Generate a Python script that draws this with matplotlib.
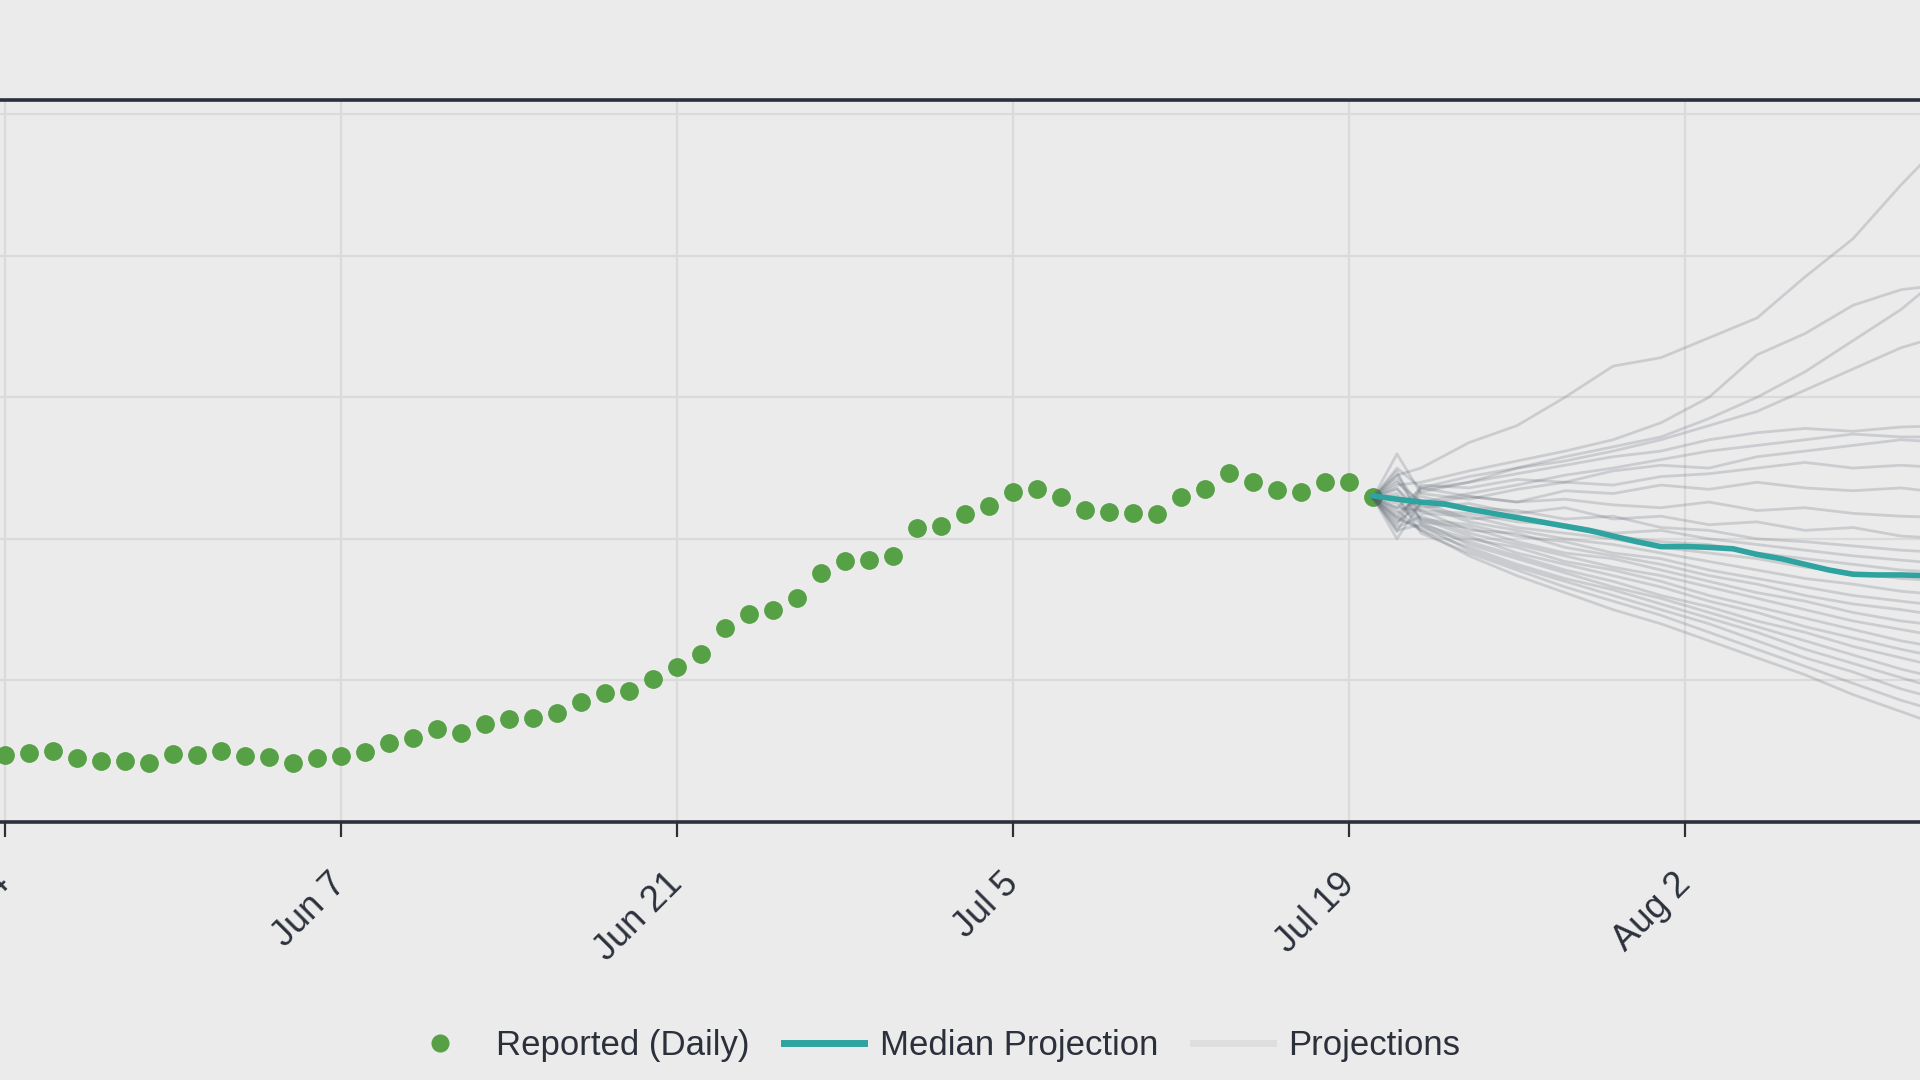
import numpy as np
import matplotlib

matplotlib.use("Agg")
import matplotlib.pyplot as plt
import matplotlib.dates as mdates
from matplotlib.lines import Line2D

plt.rcParams["font.family"] = ["Liberation Sans", "DejaVu Sans"]

# reported daily values, May 24 .. Jul 20
reported_dates = np.arange("2020-05-24", "2020-07-21", dtype="datetime64[D]")
reported = [
    47.3, 48.5, 50.4, 45.0, 43.1, 43.3, 41.9, 48.0, 47.3, 49.9,
    46.6, 46.1, 41.9, 45.0, 46.6, 49.6, 56.0, 59.5, 65.9, 63.1,
    69.2, 72.5, 73.2, 77.2, 85.0, 90.9, 92.7, 100.8, 109.3, 118.4,
    137.2, 147.1, 149.7, 158.4, 175.6, 184.3, 184.8, 188.1, 207.8, 209.0,
    217.5, 223.4, 233.3, 235.0, 229.3, 220.1, 219.1, 218.0, 217.3, 229.7,
    235.0, 246.3, 239.9, 234.5, 233.3, 240.3, 240.1, 229.3,
]

# median projection, Jul 20 .. Aug 13
median_dates = np.arange("2020-07-20", "2020-08-14", dtype="datetime64[D]")
median = [
    230.4, 228, 226, 224.5, 221, 218, 215, 212, 209, 206,
    202, 198, 194.5, 194.6, 194, 193, 189, 186, 182, 178,
    175, 174.5, 174.5, 174, 173,
]

# individual projections
proj_dates = np.array(
    ["2020-07-20", "2020-07-21", "2020-07-22", "2020-07-24", "2020-07-26",
     "2020-07-28", "2020-07-30", "2020-08-01", "2020-08-03", "2020-08-05",
     "2020-08-07", "2020-08-09", "2020-08-11", "2020-08-13"],
    dtype="datetime64[D]",
)
projections = [
    [229, 245, 250, 268, 280, 300, 322, 328, 342, 356, 385, 412, 450, 485],
    [229, 238, 240, 248, 255, 262, 270, 282, 300, 330, 345, 365, 376, 380],
    [229, 222, 235, 240, 250, 258, 265, 272, 285, 300, 318, 340, 362, 390],
    [229, 250, 236, 244, 250, 255, 262, 270, 280, 290, 305, 320, 335, 345],
    [229, 215, 233, 240, 246, 252, 258, 262, 270, 275, 278, 276, 279, 280],
    [229, 240, 226, 232, 238, 245, 250, 256, 262, 266, 270, 274, 272, 272],
    [229, 210, 238, 236, 242, 240, 248, 252, 250, 258, 262, 266, 270, 268],
    [229, 260, 232, 228, 235, 240, 238, 244, 246, 250, 254, 250, 252, 250],
    [229, 228, 224, 230, 226, 234, 232, 238, 235, 240, 236, 234, 236, 232],
    [229, 205, 236, 230, 226, 228, 224, 222, 226, 220, 222, 218, 216, 215],
    [229, 245, 222, 225, 218, 222, 214, 216, 210, 212, 206, 208, 202, 200],
    [229, 218, 230, 222, 220, 214, 216, 208, 206, 200, 198, 195, 192, 190],
    [229, 235, 220, 218, 212, 210, 204, 206, 200, 196, 192, 188, 185, 182],
    [229, 200, 226, 214, 216, 208, 202, 198, 196, 190, 186, 182, 178, 176],
    [229, 242, 218, 216, 208, 204, 200, 194, 190, 186, 180, 176, 172, 170],
    [229, 212, 224, 212, 206, 200, 196, 190, 184, 178, 172, 168, 163, 160],
    [229, 232, 214, 210, 202, 198, 190, 186, 178, 172, 166, 160, 156, 152],
    [229, 222, 220, 206, 204, 194, 188, 182, 174, 168, 160, 154, 150, 145],
    [229, 248, 212, 208, 198, 190, 186, 178, 170, 162, 156, 148, 142, 138],
    [229, 208, 216, 204, 196, 188, 180, 174, 166, 158, 150, 142, 136, 130],
    [229, 225, 210, 200, 194, 184, 178, 170, 160, 152, 144, 136, 128, 122],
    [229, 236, 214, 202, 190, 182, 174, 166, 156, 148, 138, 130, 122, 115],
    [229, 214, 208, 198, 188, 178, 170, 160, 152, 142, 134, 124, 116, 108],
    [229, 228, 212, 196, 186, 176, 166, 158, 148, 138, 128, 118, 108, 100],
    [229, 220, 206, 194, 182, 172, 164, 154, 144, 134, 122, 112, 102, 92],
    [229, 206, 210, 192, 180, 170, 160, 150, 140, 128, 116, 106, 94, 85],
    [229, 230, 204, 190, 178, 166, 156, 146, 134, 122, 110, 98, 86, 76],
    [229, 216, 206, 188, 174, 162, 150, 140, 128, 116, 104, 90, 78, 66],
]

tick_dates = np.arange("2020-05-10", "2020-08-20", 14, dtype="datetime64[D]")

BG = "#ebebeb"
GREEN = "#56a046"
TEAL = "#2ea39f"
GREY = "#56606c"
DARK = "#2b303b"
GRID = "#dadada"

fig = plt.figure(figsize=(19.2, 10.8), dpi=100, facecolor=BG)
# axes runs past both figure edges (reference is a crop)
ax = fig.add_axes([-0.1224, 0.2389, 1.1875, 0.6685], facecolor=BG)

for p in projections:
    ax.plot(proj_dates, p, color=GREY, alpha=0.22, lw=2, zorder=3)
ax.plot(reported_dates, reported, "o", color=GREEN, ms=12.5, mec=GREEN, zorder=2)
ax.plot(median_dates, median, color=TEAL, lw=4, zorder=4)

# ticks first, then limits (set_xticks would widen the view)
ax.set_xticks(tick_dates)
ax.set_yticks([0, 100, 200, 300, 400, 500])
ax.set_xlim(np.datetime64("2020-05-14"), np.datetime64("2020-08-17"))
ax.set_ylim(0, 510)
ax.xaxis.set_major_formatter(mdates.DateFormatter("%b %-d"))

ax.grid(True, color=GRID, lw=1.6, zorder=0)
ax.set_axisbelow(True)
for side in ["left", "right"]:
    ax.spines[side].set_visible(False)
for side in ["top", "bottom"]:
    ax.spines[side].set_color(DARK)
    ax.spines[side].set_linewidth(2.6)

ax.tick_params(axis="y", left=False, labelleft=False)
ax.tick_params(axis="x", direction="out", length=11, width=1.6, color=DARK,
               labelsize=26, labelcolor=DARK, pad=30)
plt.setp(ax.get_xticklabels(), rotation=45, ha="right", va="center",
         rotation_mode="anchor")

handles = [
    Line2D([], [], marker="o", ls="none", color=GREEN, ms=12),
    Line2D([], [], color=TEAL, lw=5),
    Line2D([], [], color="#dedede", lw=5),
]
fig.legend(handles, ["Reported (Daily)", "Median Projection", "Projections"],
           loc="center", bbox_to_anchor=(0.4845, 0.032), ncol=3, frameon=False,
           fontsize=25, labelcolor=DARK, handlelength=2.3, handletextpad=0.45,
           columnspacing=1.0)

fig.savefig("out.png", dpi=100, facecolor=BG)
